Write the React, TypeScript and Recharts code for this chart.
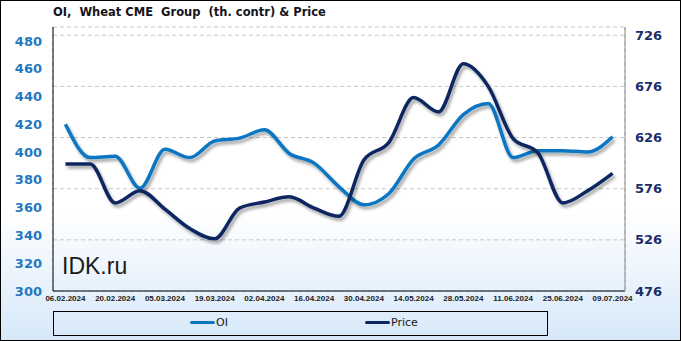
import { CartesianGrid, Line, LineChart, XAxis, YAxis } from "recharts";

// weekly CME reports, Tuesdays
const dates = [
  "06.02.2024", "13.02.2024", "20.02.2024", "27.02.2024", "05.03.2024",
  "12.03.2024", "19.03.2024", "26.03.2024", "02.04.2024", "09.04.2024",
  "16.04.2024", "23.04.2024", "30.04.2024", "07.05.2024", "14.05.2024",
  "21.05.2024", "28.05.2024", "04.06.2024", "11.06.2024", "18.06.2024",
  "25.06.2024", "02.07.2024", "09.07.2024",
];
const oi = [
  420, 396, 397, 374, 402, 396, 408, 410, 416, 399, 392, 375,
  362, 370, 395, 405, 427, 435, 396, 401, 401, 400, 411,
];
const price = [
  600, 600, 562, 574, 556, 537, 527, 557, 563, 568, 557, 549,
  604, 621, 665, 651, 698, 676, 625, 611, 562, 574, 591,
];
const leftTicks = [300, 320, 340, 360, 380, 400, 420, 440, 460, 480];
const rightTicks = [476, 526, 576, 626, 676, 726];

const labelTicks = dates.map((_, i) => i).filter((i) => i % 2 === 0);
const gridTicks = dates.slice(1).map((_, i) => i + 0.5);

const data = dates.map((d, i) => ({ i, date: d, oi: oi[i], price: price[i] }));

const OI_COLOR = "#0a76c2";
const PRICE_COLOR = "#0c2660";

export default function App() {
  return (
    <div
      style={{
        position: "relative",
        width: 681,
        height: 341,
        background: "linear-gradient(to bottom, #ffffff 0%, #ffffff 62%, #d6e8f9 100%)",
        fontFamily: "'DejaVu Sans', sans-serif",
        overflow: "hidden",
      }}
    >
      <style>{"body{margin:0}"}</style>
      <svg width={0} height={0} style={{ position: "absolute" }}>
        <defs>
          <filter id="lineShadow" x="-5%" y="-20%" width="110%" height="140%">
            <feDropShadow dx="2" dy="3" stdDeviation="1.5" floodColor="#000" floodOpacity="0.35" />
          </filter>
        </defs>
      </svg>

      <div
        style={{
          position: "absolute",
          left: 53,
          top: 5,
          fontSize: 11.5,
          fontWeight: "bold",
          color: "#141420",
          whiteSpace: "pre",
        }}
      >
        OI,  Wheat CME  Group  (th. contr) & Price
      </div>

      <div style={{ position: "absolute", left: 0, top: 0 }}>
        <LineChart
          width={681}
          height={341}
          data={data}
          margin={{ top: 27, right: 0, bottom: 30, left: 0 }}
        >
          <CartesianGrid
            xAxisId="minor"
            yAxisId="right"
            stroke="#c8c8c8"
            strokeDasharray="4 3"
          />
          <XAxis
            dataKey="i"
            type="number"
            domain={[-0.5, dates.length - 0.5]}
            ticks={labelTicks}
            interval={0}
            tickFormatter={(v) => dates[v] ?? ""}
            allowDataOverflow
            height={20}
            axisLine={{ stroke: "#000" }}
            tickLine={false}
            tickSize={0}
            tickMargin={4}
            tick={{ fontSize: 8, fontWeight: "bold", fill: "#1a1a1a", fontFamily: "'Liberation Sans', sans-serif" }}
          />
          <XAxis
            xAxisId="minor"
            dataKey="i"
            type="number"
            orientation="top"
            domain={[-0.5, dates.length - 0.5]}
            ticks={gridTicks}
            interval={0}
            allowDataOverflow
            height={0}
            axisLine={{ stroke: "#000" }}
            tickLine={false}
            tick={false}
          />
          <YAxis
            yAxisId="left"
            domain={[300, 490]}
            ticks={leftTicks}
            interval={0}
            allowDataOverflow
            width={53}
            axisLine={{ stroke: "#000" }}
            tickLine={false}
            tickSize={0}
            tickMargin={11}
            tick={{ fontSize: 13, fontWeight: "bold", fill: "#1f78c1" }}
          />
          <YAxis
            yAxisId="right"
            orientation="right"
            domain={[476, 734]}
            ticks={rightTicks}
            interval={0}
            allowDataOverflow
            width={56}
            axisLine={{ stroke: "#8a8a8a" }}
            tickLine={false}
            tickSize={0}
            tickMargin={10}
            tick={{ fontSize: 13, fontWeight: "bold", fill: "#1b2d6b" }}
          />
          <Line
            yAxisId="left"
            dataKey="oi"
            type="monotone"
            stroke={OI_COLOR}
            strokeWidth={3.5}
            dot={false}
            filter="url(#lineShadow)"
            isAnimationActive={false}
          />
          <Line
            yAxisId="right"
            dataKey="price"
            type="monotone"
            stroke={PRICE_COLOR}
            strokeWidth={3.5}
            dot={false}
            filter="url(#lineShadow)"
            isAnimationActive={false}
          />
        </LineChart>
      </div>

      <div
        style={{
          position: "absolute",
          left: 62,
          top: 253,
          fontSize: 23,
          color: "#1a1a1a",
          fontFamily: "'Liberation Sans', Arial, sans-serif",
        }}
      >
        IDK.ru
      </div>

      <div
        style={{
          position: "absolute",
          left: 53,
          top: 311,
          width: 495,
          height: 25,
          border: "1px solid #000",
          boxSizing: "border-box",
          fontSize: 11,
          color: "#1a1a1a",
        }}
      >
        {[
          { name: "OI", color: OI_COLOR, x: 136 },
          { name: "Price", color: PRICE_COLOR, x: 311 },
        ].map((item) => (
          <div
            key={item.name}
            style={{ position: "absolute", left: item.x, top: 4, display: "flex", alignItems: "center" }}
          >
            <span
              style={{ display: "inline-block", width: 25, height: 3, borderRadius: 2, background: item.color }}
            />
            <span style={{ marginLeft: 1 }}>{item.name}</span>
          </div>
        ))}
      </div>

      <div
        style={{
          position: "absolute",
          inset: 0,
          border: "1px solid #000",
          boxSizing: "border-box",
          pointerEvents: "none",
        }}
      />
    </div>
  );
}
